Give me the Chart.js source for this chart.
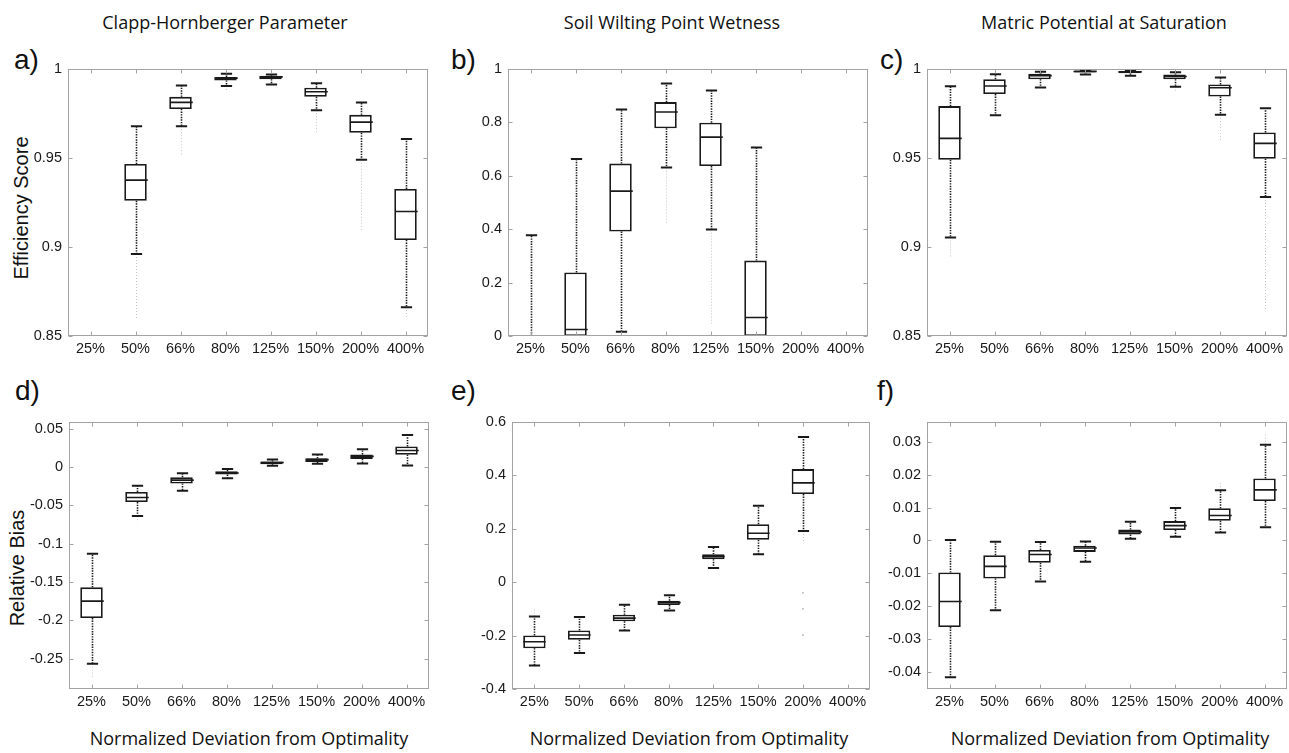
<!DOCTYPE html>
<html>
<head>
<meta charset="utf-8">
<script src="https://cdn.jsdelivr.net/npm/chart.js@4.4.1/dist/chart.umd.min.js"></script>
<style>
  body { margin:0; background:#fff; width:1289px; height:753px; position:relative; overflow:hidden; }
  canvas { position:absolute; }
  .txt { position:absolute; white-space:nowrap; color:#111; }
  .col { font-family:'Open Sans', sans-serif; font-size:18px; line-height:20px; transform:translateX(-50%); }
  .xt { font-family:'Open Sans', sans-serif; font-size:18px; line-height:20px; transform:translateX(-50%); }
  .lt { font-family:'Liberation Sans', Arial, sans-serif; font-size:28px; line-height:28px; }
  .yt { font-family:'Liberation Sans', Arial, sans-serif; font-size:20px; line-height:20px; transform:translate(-50%,-50%) rotate(-90deg); }
</style>
</head>
<body>
<div class="txt col" style="left:225px; top:12px">Clapp-Hornberger Parameter</div>
<div class="txt col" style="left:672px; top:12px">Soil Wilting Point Wetness</div>
<div class="txt col" style="left:1104px; top:12px">Matric Potential at Saturation</div>

<div class="txt lt" style="left:14px; top:46px">a)</div>
<div class="txt lt" style="left:451px; top:46px">b)</div>
<div class="txt lt" style="left:880px; top:46px">c)</div>
<div class="txt lt" style="left:15px; top:377px">d)</div>
<div class="txt lt" style="left:451px; top:377px">e)</div>
<div class="txt lt" style="left:877px; top:377px">f)</div>

<div class="txt yt" style="left:21px; top:208px">Efficiency Score</div>
<div class="txt yt" style="left:17px; top:568px">Relative Bias</div>

<div class="txt xt" style="left:249px; top:728px">Normalized Deviation from Optimality</div>
<div class="txt xt" style="left:689px; top:728px">Normalized Deviation from Optimality</div>
<div class="txt xt" style="left:1110px; top:728px">Normalized Deviation from Optimality</div>

<script>
const categories = ['25%', '50%', '66%', '80%', '125%', '150%', '200%', '400%'];

// each row: [lower whisker, q1, median, q3, upper whisker]
const clappEff = [
  null,
  [0.896, 0.9259, 0.9375, 0.9465, 0.9677],
  [0.9677, 0.9774, 0.9811, 0.9842, 0.9906],
  [0.9903, 0.9934, 0.9947, 0.9954, 0.9971],
  [0.9912, 0.9941, 0.9954, 0.9961, 0.9967],
  [0.9767, 0.9842, 0.9871, 0.9893, 0.9919],
  [0.9489, 0.9640, 0.9700, 0.9741, 0.9811],
  [0.8662, 0.9039, 0.9199, 0.9325, 0.9605]
];
const wiltEff = [
  [0, 0, 0, 0, 0.377],
  [0, 0, 0.0245, 0.238, 0.662],
  [0.016, 0.391, 0.542, 0.645, 0.847],
  [0.630, 0.777, 0.838, 0.875, 0.945],
  [0.398, 0.636, 0.744, 0.798, 0.918],
  [0, 0, 0.069, 0.282, 0.705],
  null,
  null
];
const matricEff = [
  [0.9053, 0.9489, 0.9609, 0.9790, 0.9901],
  [0.9739, 0.9858, 0.9903, 0.9941, 0.9969],
  [0.9895, 0.9941, 0.9961, 0.9972, 0.9983],
  [0.9967, 0.9978, 0.9985, 0.9989, 0.9993],
  [0.9961, 0.9974, 0.9982, 0.9987, 0.9991],
  [0.9899, 0.9941, 0.9956, 0.9967, 0.9980],
  [0.9741, 0.9844, 0.9893, 0.9912, 0.9950],
  [0.9280, 0.9495, 0.9581, 0.9642, 0.9778]
];
const clappBias = [
  [-0.2566, -0.197, -0.175, -0.157, -0.113],
  [-0.0639, -0.0456, -0.0396, -0.0324, -0.0243],
  [-0.0307, -0.0213, -0.017, -0.0132, -0.0081],
  [-0.0145, -0.0098, -0.0077, -0.0055, -0.0026],
  [0.0017, 0.0038, 0.006, 0.0072, 0.0098],
  [0.0043, 0.0068, 0.0098, 0.0115, 0.0166],
  [0.0047, 0.0107, 0.014, 0.0166, 0.0234],
  [0.0021, 0.0162, 0.0217, 0.0269, 0.0418]
];
const wiltBias = [
  [-0.312, -0.2474, -0.223, -0.1997, -0.1286],
  [-0.265, -0.216, -0.198, -0.181, -0.131],
  [-0.181, -0.147, -0.135, -0.1225, -0.0845],
  [-0.1066, -0.0857, -0.077, -0.0698, -0.049],
  [0.0527, 0.0858, 0.0955, 0.104, 0.131],
  [0.104, 0.158, 0.1825, 0.2168, 0.2855],
  [0.191, 0.3295, 0.371, 0.4227, 0.5428],
  null
];
const matricBias = [
  [-0.0417, -0.0264, -0.0186, -0.0098, 0.0001],
  [-0.0213, -0.0116, -0.0079, -0.0045, -0.0004],
  [-0.0125, -0.0068, -0.0043, -0.0029, -0.0005],
  [-0.0065, -0.0035, -0.0023, -0.0016, -0.0003],
  [0.0005, 0.0018, 0.0026, 0.0033, 0.0057],
  [0.0011, 0.0032, 0.0045, 0.0059, 0.0099],
  [0.0024, 0.006, 0.0076, 0.0098, 0.0153],
  [0.004, 0.012, 0.0154, 0.0189, 0.0292]
];

// outlier spread past the whiskers: [lowest, highest]
const clappEffTails = [null, [0.860, null], [0.951, null], [0.987, null], [0.990, null], [0.9636, null], [0.909, null], [0.8607, null]];
const wiltEffTails = [null, null, null, [0.42, null], [0.047, null], null, null, null];
const matricEffTails = [[0.894, null], null, null, null, null, [0.987, null], [0.960, null], [0.865, null]];
const clappBiasTails = [[-0.275, null], [-0.072, null], [-0.036, null], null, null, null, null, [-0.001, null]];
const wiltBiasTails = [[-0.318, -0.098], null, null, null, null, null, [0.147, null], null];
const matricBiasTails = [null, null, null, null, null, [null, 0.011], [null, 0.018], [null, 0.0327]];
// lone outliers for 200% in e)
const wiltBiasStray = [-0.04, -0.1, -0.198];

const effTicks = [0.85, 0.9, 0.95, 1];
const wiltEffTicks = [0, 0.2, 0.4, 0.6, 0.8, 1];
const clappBiasTicks = [-0.25, -0.2, -0.15, -0.1, -0.05, 0, 0.05];
const wiltBiasTicks = [-0.4, -0.2, 0, 0.2, 0.4, 0.6];
const matricBiasTicks = [-0.04, -0.03, -0.02, -0.01, 0, 0.01, 0.02, 0.03];

const tickFont = { family: "'Liberation Sans', Arial, sans-serif", size: 14.5 };

function line(ctx, x1, y1, x2, y2) {
  ctx.beginPath();
  ctx.moveTo(x1, y1);
  ctx.lineTo(x2, y2);
  ctx.stroke();
}

// whiskers, caps, medians and outlier tails
const boxWhisk = {
  id: 'boxWhisk',
  afterDatasetsDraw(chart, args, opts) {
    const { ctx, chartArea: ca, scales: { x, y } } = chart;
    const half = ca.width / opts.rows.length / 2;
    ctx.save();
    ctx.beginPath();
    ctx.rect(ca.left, ca.top, ca.width, ca.height);
    ctx.clip();
    opts.rows.forEach((r, i) => {
      if (!r) return;
      const cx = Math.round(x.getPixelForValue(i)) + 0.5;
      const [lw, q1, med, q3, uw] = r.map(v => y.getPixelForValue(v));
      const t = opts.tails[i];
      if (t) {
        ctx.strokeStyle = '#c4c4c4';
        ctx.lineWidth = 1;
        ctx.setLineDash([1, 2]);
        if (t[0] !== null) line(ctx, cx, lw, cx, y.getPixelForValue(t[0]));
        if (t[1] !== null) line(ctx, cx, uw, cx, y.getPixelForValue(t[1]));
      }
      ctx.strokeStyle = '#1a1a1a';
      ctx.lineWidth = 1.6;
      ctx.setLineDash([1.4, 1.2]);
      if (q3 - uw > 0.5) line(ctx, cx, q3, cx, uw);
      if (lw - q1 > 0.5) line(ctx, cx, q1, cx, lw);
      ctx.setLineDash([]);
      ctx.lineWidth = 2;
      const cap = half * 0.25;
      if (r[4] !== r[3]) line(ctx, cx - cap, uw, cx + cap, uw);
      if (r[0] !== r[1]) line(ctx, cx - cap, lw, cx + cap, lw);
      ctx.lineWidth = 1.6;
      if (r[3] > r[1]) line(ctx, cx - half * 0.5, med, cx + half * 0.5, med);
    });
    ctx.restore();
  }
};

// grey box round the plot with inward ticks
const frame = {
  id: 'frame',
  afterDraw(chart) {
    const { ctx, chartArea: ca, scales: { x, y } } = chart;
    const l = Math.round(ca.left) + 0.5, r = Math.round(ca.right) - 0.5;
    const t = Math.round(ca.top) + 0.5, b = Math.round(ca.bottom) - 0.5;
    ctx.save();
    ctx.strokeStyle = '#a3a3a3';
    ctx.lineWidth = 1;
    ctx.strokeRect(l, t, r - l, b - t);
    x.ticks.forEach((tk, i) => {
      const px = Math.round(x.getPixelForValue(i)) + 0.5;
      line(ctx, px, t, px, t + 4);
      line(ctx, px, b, px, b - 4);
    });
    y.ticks.forEach(tk => {
      const py = Math.round(y.getPixelForValue(tk.value)) + 0.5;
      line(ctx, l, py, l + 4, py);
      line(ctx, r, py, r - 4, py);
    });
    ctx.restore();
  }
};

const panels = [
  { rows: clappEff, tails: clappEffTails, ticks: effTicks, min: 0.85, max: 1, left: 68, top: 64 },
  { rows: wiltEff, tails: wiltEffTails, ticks: wiltEffTicks, min: 0, max: 1, left: 508, top: 64 },
  { rows: matricEff, tails: matricEffTails, ticks: effTicks, min: 0.85, max: 1, left: 927, top: 64 },
  { rows: clappBias, tails: clappBiasTails, ticks: clappBiasTicks, min: -0.2897, max: 0.0593, left: 69, top: 417 },
  { rows: wiltBias, tails: wiltBiasTails, ticks: wiltBiasTicks, min: -0.4, max: 0.6, left: 512, top: 417, stray: wiltBiasStray },
  { rows: matricBias, tails: matricBiasTails, ticks: matricBiasTicks, min: -0.0453, max: 0.0362, left: 927, top: 417 }
];

function makePanel(p) {
  const YW = 66, PT = 10, PR = 2, XH = 28, W = 360, H = 272;
  const cv = document.createElement('canvas');
  cv.width = YW + W + PR;
  cv.height = PT + H + XH;
  cv.style.left = (p.left - YW) + 'px';
  cv.style.top = (p.top - PT) + 'px';
  document.body.appendChild(cv);

  const datasets = [{
    type: 'bar',
    data: p.rows.map(r => (r && r[3] > r[1]) ? [r[1], r[3]] : null),
    backgroundColor: '#fff',
    borderColor: '#1a1a1a',
    borderWidth: 1.8,
    borderSkipped: false,
    barPercentage: 0.5,
    categoryPercentage: 1
  }];
  if (p.stray) {
    datasets.push({
      type: 'line',
      data: p.stray.map(v => ({ x: '200%', y: v })),
      showLine: false,
      pointRadius: 1,
      pointBorderWidth: 0,
      pointBackgroundColor: '#bdbdbd'
    });
  }

  new Chart(cv, {
    type: 'bar',
    data: { labels: categories, datasets: datasets },
    options: {
      responsive: false,
      animation: false,
      devicePixelRatio: 1,
      layout: { padding: { top: PT, right: PR, left: 0, bottom: 0 } },
      plugins: {
        legend: { display: false },
        tooltip: { enabled: false },
        boxWhisk: { rows: p.rows, tails: p.tails }
      },
      scales: {
        x: {
          grid: { display: false, drawTicks: false },
          border: { display: false },
          ticks: { font: tickFont, color: '#1a1a1a', padding: 4, maxRotation: 0, autoSkip: false },
          afterFit: s => { s.height = XH; }
        },
        y: {
          min: p.min,
          max: p.max,
          grid: { display: false, drawTicks: false },
          border: { display: false },
          ticks: {
            font: tickFont,
            color: '#1a1a1a',
            padding: 6,
            callback: v => String(Number(v.toFixed(4)))
          },
          afterBuildTicks: ax => { ax.ticks = p.ticks.map(v => ({ value: v })); },
          afterFit: s => { s.width = YW; }
        }
      }
    },
    plugins: [boxWhisk, frame]
  });
}

panels.forEach(makePanel);
</script>
</body>
</html>
